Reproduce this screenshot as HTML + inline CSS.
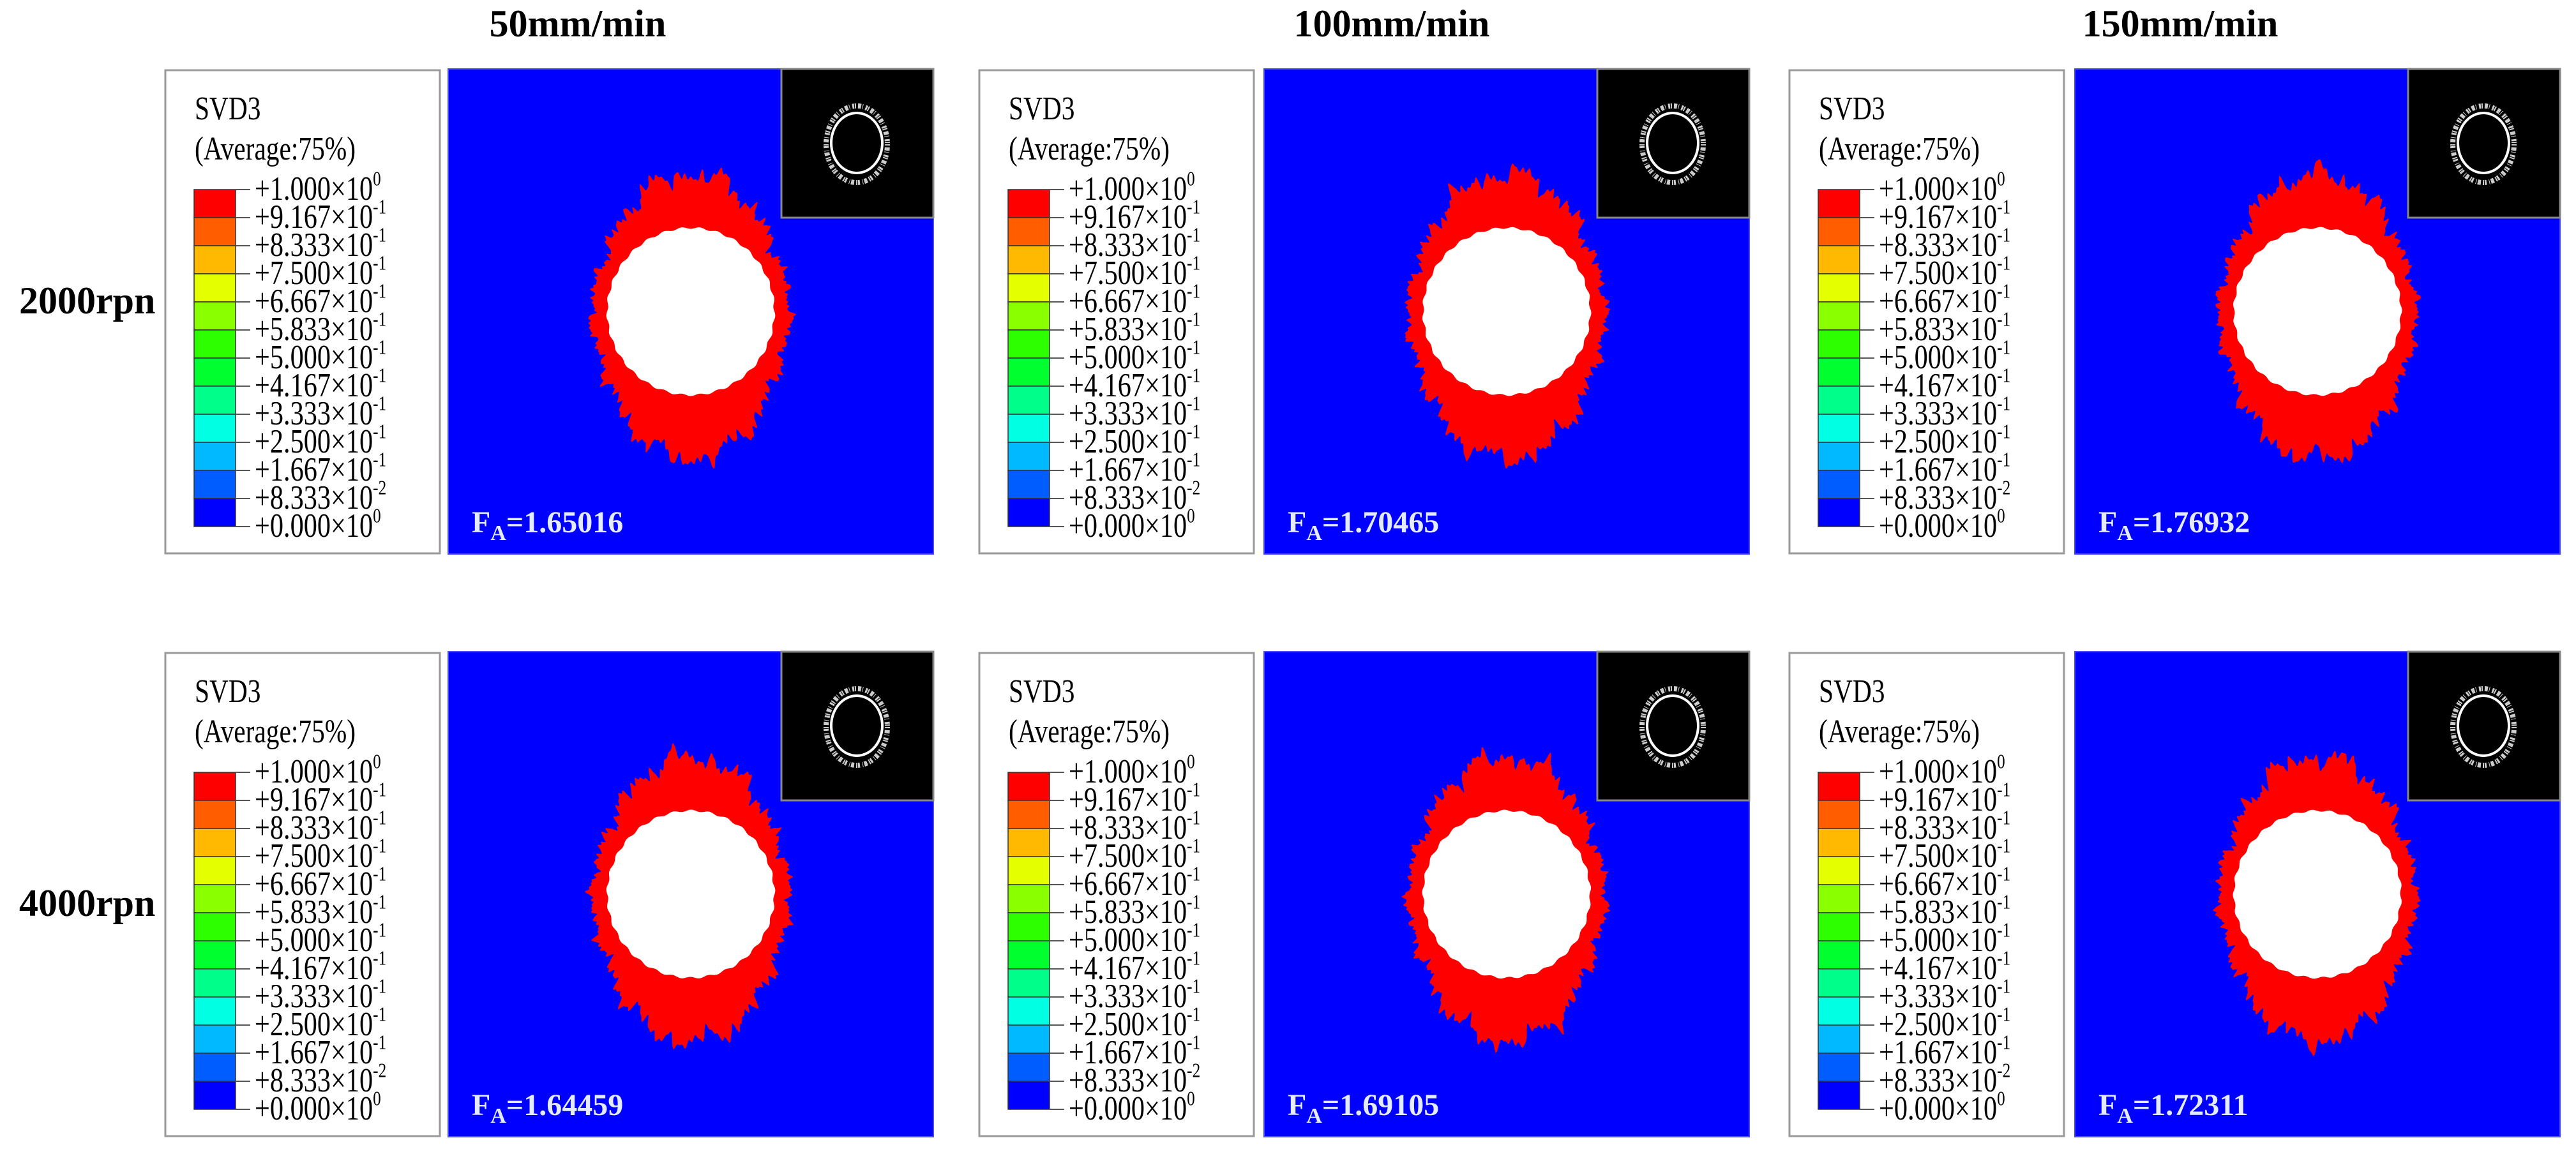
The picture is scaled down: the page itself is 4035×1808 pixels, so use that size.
<!DOCTYPE html>
<html><head><meta charset="utf-8"><style>
html,body{margin:0;padding:0;background:#fff;}
svg{display:block;font-family:"Liberation Serif","DejaVu Serif",serif;}
</style></head><body>
<svg id="fig" width="4035" height="1808" viewBox="0 0 4035 1808" xmlns="http://www.w3.org/2000/svg">
<rect width="4035" height="1808" fill="#fff"/>
<text x="905" y="57" font-size="60" font-weight="bold" text-anchor="middle">50mm/min</text>
<text x="2180" y="57" font-size="60" font-weight="bold" text-anchor="middle">100mm/min</text>
<text x="3415" y="57" font-size="60" font-weight="bold" text-anchor="middle">150mm/min</text>
<text x="30" y="491" font-size="60" font-weight="bold">2000rpn</text>
<text x="30" y="1435" font-size="60" font-weight="bold">4000rpn</text>
</svg>
<script>
const faValues = [1.65016, 1.70465, 1.76932, 1.64459, 1.69105, 1.72311];
const legendLabels = ["+1.000","+9.167","+8.333","+7.500","+6.667","+5.833","+5.000","+4.167","+3.333","+2.500","+1.667","+8.333","+0.000"];
const legendExps = ["0","-1","-1","-1","-1","-1","-1","-1","-1","-1","-1","-2","0"];
const legendColors = ["#ff0000","#ff5d00","#ffb900","#e3ff00","#8aff00","#2eff00","#00ff2e","#00ff8a","#00ffe3","#00b9ff","#005dff","#0000ff"];

const NS = "http://www.w3.org/2000/svg";
const svg = document.getElementById("fig");
const legendX = [259, 1534, 2803];
const panelX = [702, 1980, 3250];
const rowY = [108, 1021];
const PW = 760, PH = 760;

function mk(tag, attrs, parent) {
  const e = document.createElementNS(NS, tag);
  for (const k in attrs) e.setAttribute(k, attrs[k]);
  (parent || svg).appendChild(e);
  return e;
}

function blobPath(cx, cy, base, kind, seed) {
  let d = "";
  const N = 720;
  for (let i = 0; i < N; i++) {
    const t = i / N * Math.PI * 2;
    const s = Math.sin(t);
    let thick;
    if (kind === "red") {
      const top = s < 0 ? 62 * s * s * s * s : 72 * s * s * s * s;
      thick = 24 + top
        + (6 + 10 * s * s) * (Math.sin(13 * t + seed) * 0.5 + Math.sin(23 * t + 2.1 * seed) * 0.4 + Math.sin(41 * t + 0.7 * seed) * 0.35 + Math.sin(67 * t + 1.9 * seed) * 0.3 + Math.sin(97 * t + seed * 3.3) * 0.25 + Math.sin(151 * t + seed) * 0.2);
    } else {
      thick = 1.5 * Math.sin(29 * t + seed);
    }
    const r = base + thick;
    const x = cx + r * Math.cos(t), y = cy + r * s;
    d += (i ? "L" : "M") + x.toFixed(1) + " " + y.toFixed(1);
  }
  return d + "Z";
}

function stext(parent, x, y, size, str) {
  const g = mk("g", {transform: "translate(" + x + "," + y + ") scale(0.9,1.12)"}, parent);
  const t = mk("text", {x: 0, y: 0, "font-size": size}, g);
  t.textContent = str;
  return t;
}

for (let r = 0; r < 2; r++) {
  for (let c = 0; c < 3; c++) {
    const idx = r * 3 + c;
    const lx = legendX[c], ly = rowY[r] + 2;
    const g = mk("g", {});
    
    
    const box = mk("rect", {x: lx, y: ly, width: 430, height: 757, fill: "#fff", stroke: "#9a9a9a", "stroke-width": 3}, g);
    
    
    const t1 = stext(g, lx + 46, ly + 77, 46, "SVD3");
    
    
    const t2 = stext(g, lx + 46, ly + 140, 46, "(Average:75%)");
    
    
    const barX = lx + 45, barY = ly + 187, segH = 44;
    legendColors.forEach((col, i) => {
      const s = mk("rect", {x: barX, y: barY + i * segH, width: 65, height: segH, fill: col, stroke: "#333", "stroke-width": 1.5}, g);
      
      
    });
    legendLabels.forEach((lab, i) => {
      const yy = barY + i * segH;
      const tk = mk("line", {x1: barX + 65, x2: barX + 88, y1: yy, y2: yy, stroke: "#555", "stroke-width": 2}, g);
      
      
      const tg = mk("g", {transform: "translate(" + (lx + 140) + "," + (yy + 16) + ") scale(0.9,1.12)"}, g);
      const tx = mk("text", {x: 0, y: 0, "font-size": 47}, tg);
      
      
      tx.appendChild(document.createTextNode(lab + "\u00d710"));
      const sup = mk("tspan", {dy: -20, "font-size": 28}, tx);
      sup.textContent = legendExps[i];
    });

    const px = panelX[c], py = rowY[r];
    const pg = mk("g", {});
    
    
    const bg = mk("rect", {x: px, y: py, width: PW, height: PH, fill: "#0000ff", stroke: "#4a4aff", "stroke-width": 2}, pg);
    
    
    const cx = px + 380, cy = py + 380;
    const red = mk("path", {d: blobPath(cx, cy + 3, 132, "red", idx * 1.3 + 0.4), fill: "#ff0000"}, pg);
    
    
    const hole = mk("path", {d: blobPath(cx, cy, 131, "hole", idx), fill: "#ffffff"}, pg);
    
    
    const ix = px + PW - 238, iy = py;
    const inset = mk("rect", {x: ix, y: iy, width: 238, height: 233, fill: "#000", stroke: "#888", "stroke-width": 3}, pg);
    
    
    const e1 = mk("ellipse", {cx: ix + 118, cy: iy + 116, rx: 40, ry: 47, fill: "none", stroke: "#fff", "stroke-width": 4}, pg);
    
    
    const e2 = mk("ellipse", {cx: ix + 118, cy: iy + 118, rx: 48, ry: 60, fill: "none", stroke: "#ccc", "stroke-width": 8, "stroke-dasharray": "2 3 5 2 1 4 3 1"}, pg);
    
    
    const fa = mk("text", {x: px + 37, y: py + PH - 34, "font-size": 48, "font-weight": "bold", fill: "#e4eaff"}, pg);
    
    
    fa.appendChild(document.createTextNode("F"));
    const sub = mk("tspan", {dy: 12, "font-size": 34}, fa);
    sub.textContent = "A";
    const rest = mk("tspan", {dy: -12}, fa);
    rest.textContent = "=" + faValues[idx].toFixed(5);
  }
}
</script>
</body></html>
